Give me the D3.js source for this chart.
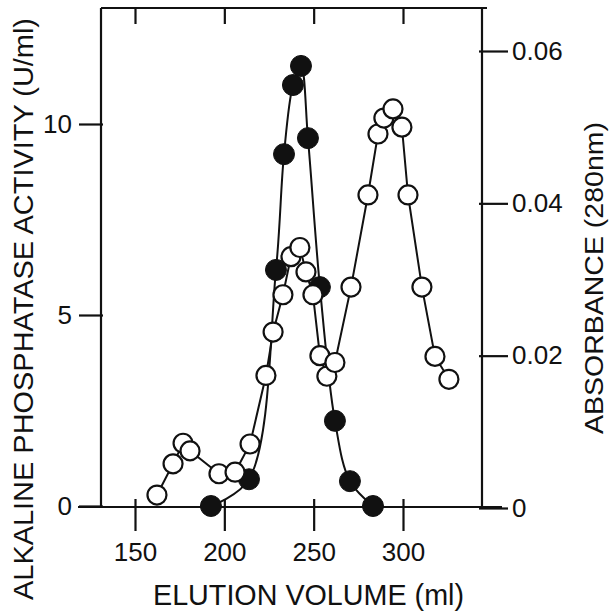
<!DOCTYPE html>
<html><head><meta charset="utf-8">
<script src="https://cdn.jsdelivr.net/npm/d3@7"></script>
<style>html,body{margin:0;padding:0;background:#fff}</style>
</head><body><script>
// Alkaline phosphatase activity (filled circles, left axis)
const activityVolume = [192.5, 213.8, 228.9, 233.4, 238.4, 242.9, 246.8, 253.5, 261.9, 270.3, 283.2];
const activityValues = [0, 0.7, 6.18, 9.21, 11.02, 11.52, 9.63, 5.73, 2.23, 0.65, 0];

// Absorbance at 280 nm (open circles, right axis)
const absorbanceVolume = [162.3, 171.3, 176.9, 180.8, 197.0, 206.0, 214.4, 223.3, 227.3, 232.8, 237.3, 242.3, 245.7,
  249.6, 253.5, 257.4, 261.9, 270.9, 280.4, 286.0, 289.3, 294.4, 299.4, 302.8, 310.6, 317.9, 325.7];
const absorbanceValues = [0.0017, 0.0058, 0.0085, 0.0075, 0.0045, 0.0047, 0.0084, 0.0174, 0.0231, 0.0280, 0.0330, 0.0342, 0.0310,
  0.0280, 0.0200, 0.0173, 0.0191, 0.0290, 0.0411, 0.0491, 0.0512, 0.0524, 0.0500, 0.0411, 0.0290, 0.0199, 0.0169];

const xTicks = [150, 200, 250, 300];
const leftTicks = [0, 5, 10];
const rightTicks = [0, 0.02, 0.04, 0.06];

const W = 616, H = 616;
const frame = {left: 101, right: 482, top: 8, bottom: 507};
const font = "'Liberation Sans', Arial, sans-serif";

const svg = d3.select("body").append("svg").attr("width", W).attr("height", H)
  .style("display", "block");
svg.append("rect").attr("width", W).attr("height", H).attr("fill", "#fff");

const x = d3.scaleLinear().domain([150, 300]).range([135, 403]);
const yL = d3.scaleLinear().domain([0, 10]).range([506, 124]);
const yR = d3.scaleLinear().domain([0, 0.06]).range([508, 51]);

const ink = "#111";

// frame
const fr = svg.append("g").attr("stroke", ink).attr("stroke-width", 2.2).attr("fill", "none");
fr.append("line").attr("x1", frame.left).attr("x2", frame.left).attr("y1", frame.top).attr("y2", frame.bottom);
fr.append("line").attr("x1", frame.left).attr("x2", frame.right + 5).attr("y1", frame.top).attr("y2", frame.top);
fr.append("line").attr("x1", frame.right).attr("x2", frame.right).attr("y1", frame.top).attr("y2", frame.bottom);
fr.append("line").attr("x1", 78).attr("x2", 502).attr("y1", frame.bottom).attr("y2", frame.bottom);

function styleAxis(g) {
  g.select(".domain").remove();
  g.selectAll(".tick line").attr("stroke", ink).attr("stroke-width", 2.2);
  g.selectAll(".tick text").attr("fill", ink).style("font-family", font).style("font-size", "26px");
}

// bottom axis
svg.append("g").attr("transform", `translate(0,${frame.bottom})`)
  .call(d3.axisBottom(x).tickValues(xTicks).tickSize(24).tickPadding(12).tickFormat(d3.format("d")))
  .call(styleAxis)
  .call(g => g.selectAll(".tick line").attr("y1", -8));

// top inner ticks
svg.append("g").attr("transform", `translate(0,${frame.top})`)
  .call(d3.axisTop(x).tickValues(xTicks).tickSize(-16).tickFormat(""))
  .call(styleAxis);

// left axis
svg.append("g").attr("transform", `translate(${frame.left},0)`)
  .call(d3.axisLeft(yL).tickValues(leftTicks).tickSize(22).tickPadding(7).tickFormat(d3.format("d")))
  .call(styleAxis)
  .call(g => g.selectAll(".tick line").attr("x1", 2));

// right axis
svg.append("g").attr("transform", `translate(${frame.right},0)`)
  .call(d3.axisRight(yR).tickValues(rightTicks).tickSize(26).tickPadding(4)
    .tickFormat(d => d === 0 ? "0" : d.toFixed(2)))
  .call(styleAxis)
  .call(g => g.selectAll(".tick line").attr("x1", -3));

// axis titles
svg.append("text").attr("transform", "translate(33,600) rotate(-90)")
  .attr("textLength", 582).attr("lengthAdjust", "spacingAndGlyphs")
  .style("font-family", font).style("font-size", "27px").attr("fill", ink)
  .text("ALKALINE PHOSPHATASE ACTIVITY (U/ml)");

svg.append("text").attr("transform", "translate(603,434) rotate(-90)")
  .attr("textLength", 312).attr("lengthAdjust", "spacingAndGlyphs")
  .style("font-family", font).style("font-size", "25px").attr("fill", ink)
  .text("ABSORBANCE (280nm)");

svg.append("text").attr("x", 153).attr("y", 605)
  .attr("textLength", 311).attr("lengthAdjust", "spacingAndGlyphs")
  .style("font-family", font).style("font-size", "29px").attr("fill", ink)
  .text("ELUTION VOLUME (ml)");

// series
const activity = activityVolume.map((v, i) => ({v, y: activityValues[i]}));
const absorbance = absorbanceVolume.map((v, i) => ({v, y: absorbanceValues[i]}));

svg.append("path").datum(activity)
  .attr("d", d3.line().x(d => x(d.v)).y(d => yL(d.y)).curve(d3.curveCatmullRom.alpha(0.5)))
  .attr("fill", "none").attr("stroke", ink).attr("stroke-width", 2);

svg.append("path").datum(absorbance)
  .attr("d", d3.line().x(d => x(d.v)).y(d => yR(d.y)))
  .attr("fill", "none").attr("stroke", ink).attr("stroke-width", 2);

svg.append("g").selectAll("circle").data(activity).join("circle")
  .attr("cx", d => x(d.v)).attr("cy", d => yL(d.y)).attr("r", 10.5)
  .attr("fill", ink).attr("stroke", ink).attr("stroke-width", 1);

svg.append("g").selectAll("circle").data(absorbance).join("circle")
  .attr("cx", d => x(d.v)).attr("cy", d => yR(d.y)).attr("r", 9.5)
  .attr("fill", "#fff").attr("stroke", ink).attr("stroke-width", 2.2);
</script></body></html>
